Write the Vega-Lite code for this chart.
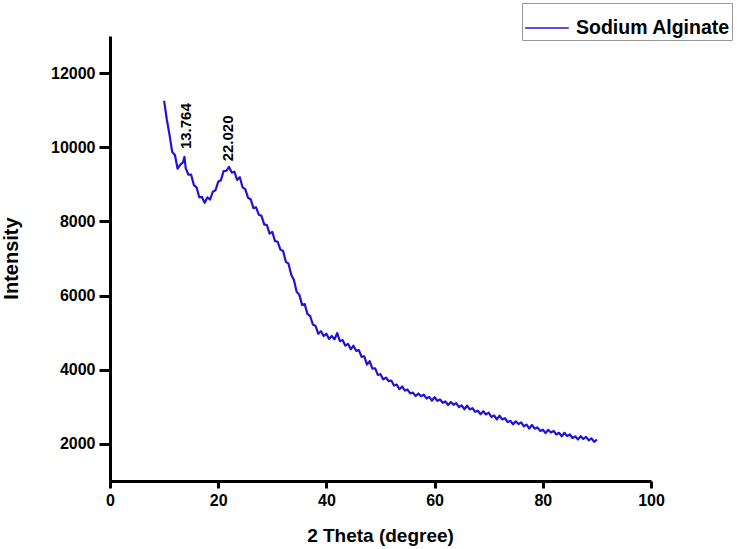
{
  "$schema": "https://vega.github.io/schema/vega-lite/v6.json",
  "width": 541,
  "height": 445,
  "autosize": {"type": "none"},
  "padding": {"left": 110, "top": 36, "right": 86, "bottom": 68},
  "background": "white",
  "config": {
    "view": {"stroke": null},
    "axis": {
      "grid": false,
      "labelFlush": false,
      "labelOverlap": false,
      "domainColor": "black",
      "domainWidth": 3,
      "tickColor": "black",
      "tickWidth": 3,
      "labelFont": "Liberation Sans",
      "labelFontWeight": "bold",
      "labelFontSize": 16,
      "labelColor": "black",
      "titleFont": "Liberation Sans",
      "titleFontWeight": "bold",
      "titleFontSize": 19,
      "titleColor": "black"
    }
  },
  "datasets": {
    "xrd": [
      {"x": 10.0, "y": 11250}, {"x": 10.5, "y": 10750}, {"x": 11.0, "y": 10340}, {"x": 11.5, "y": 9870},
      {"x": 12.0, "y": 9790}, {"x": 12.5, "y": 9420}, {"x": 13.0, "y": 9530}, {"x": 13.5, "y": 9590},
      {"x": 13.76, "y": 9740}, {"x": 14.0, "y": 9430}, {"x": 14.5, "y": 9260}, {"x": 15.0, "y": 9260},
      {"x": 15.5, "y": 8980}, {"x": 16.0, "y": 8920}, {"x": 16.5, "y": 8650}, {"x": 17.0, "y": 8660},
      {"x": 17.5, "y": 8500}, {"x": 18.0, "y": 8650}, {"x": 18.5, "y": 8590}, {"x": 19.0, "y": 8800},
      {"x": 19.5, "y": 8840}, {"x": 20.0, "y": 9070}, {"x": 20.5, "y": 9110}, {"x": 21.0, "y": 9360},
      {"x": 21.5, "y": 9360}, {"x": 22.0, "y": 9470}, {"x": 22.5, "y": 9320}, {"x": 23.0, "y": 9340},
      {"x": 23.5, "y": 9120}, {"x": 24.0, "y": 9190}, {"x": 24.5, "y": 8920}, {"x": 25.0, "y": 8870},
      {"x": 25.5, "y": 8640}, {"x": 26.0, "y": 8600}, {"x": 26.5, "y": 8360}, {"x": 27.0, "y": 8380},
      {"x": 27.5, "y": 8180}, {"x": 28.0, "y": 8150}, {"x": 28.5, "y": 7920}, {"x": 29.0, "y": 7900},
      {"x": 29.5, "y": 7670}, {"x": 30.0, "y": 7720}, {"x": 30.5, "y": 7470}, {"x": 31.0, "y": 7450},
      {"x": 31.5, "y": 7240}, {"x": 32.0, "y": 7200}, {"x": 32.5, "y": 6910}, {"x": 33.0, "y": 6860},
      {"x": 33.5, "y": 6560}, {"x": 34.0, "y": 6420}, {"x": 34.5, "y": 6100}, {"x": 35.0, "y": 6020},
      {"x": 35.5, "y": 5750}, {"x": 36.0, "y": 5770}, {"x": 36.5, "y": 5500}, {"x": 37.0, "y": 5450},
      {"x": 37.5, "y": 5220}, {"x": 38.0, "y": 5180}, {"x": 38.5, "y": 4970}, {"x": 39.0, "y": 5040},
      {"x": 39.5, "y": 4910}, {"x": 40.0, "y": 4970}, {"x": 40.5, "y": 4830}, {"x": 41.0, "y": 4910},
      {"x": 41.5, "y": 4820}, {"x": 42.0, "y": 4990}, {"x": 42.5, "y": 4770}, {"x": 43.0, "y": 4800},
      {"x": 43.5, "y": 4650}, {"x": 44.0, "y": 4700}, {"x": 44.5, "y": 4550}, {"x": 45.0, "y": 4650},
      {"x": 45.5, "y": 4510}, {"x": 46.0, "y": 4530}, {"x": 46.5, "y": 4350}, {"x": 47.0, "y": 4360},
      {"x": 47.5, "y": 4140}, {"x": 48.0, "y": 4230}, {"x": 48.5, "y": 4030}, {"x": 49.0, "y": 4040},
      {"x": 49.5, "y": 3860}, {"x": 50.0, "y": 3880}, {"x": 50.5, "y": 3740}, {"x": 51.0, "y": 3790},
      {"x": 51.5, "y": 3695}, {"x": 52.0, "y": 3710}, {"x": 52.5, "y": 3575}, {"x": 53.0, "y": 3600},
      {"x": 53.5, "y": 3475}, {"x": 54.0, "y": 3550}, {"x": 54.5, "y": 3440}, {"x": 55.0, "y": 3465},
      {"x": 55.5, "y": 3360}, {"x": 56.0, "y": 3385}, {"x": 56.5, "y": 3290}, {"x": 57.0, "y": 3360},
      {"x": 57.5, "y": 3285}, {"x": 58.0, "y": 3330}, {"x": 58.5, "y": 3225}, {"x": 59.0, "y": 3270},
      {"x": 59.5, "y": 3165}, {"x": 60.0, "y": 3260}, {"x": 60.5, "y": 3160}, {"x": 61.0, "y": 3200},
      {"x": 61.5, "y": 3110}, {"x": 62.0, "y": 3145}, {"x": 62.5, "y": 3050}, {"x": 63.0, "y": 3130},
      {"x": 63.5, "y": 3055}, {"x": 64.0, "y": 3100}, {"x": 64.5, "y": 2995}, {"x": 65.0, "y": 3040},
      {"x": 65.5, "y": 2935}, {"x": 66.0, "y": 3030}, {"x": 66.5, "y": 2930}, {"x": 67.0, "y": 2965},
      {"x": 67.5, "y": 2865}, {"x": 68.0, "y": 2895}, {"x": 68.5, "y": 2800}, {"x": 69.0, "y": 2880},
      {"x": 69.5, "y": 2795}, {"x": 70.0, "y": 2840}, {"x": 70.5, "y": 2725}, {"x": 71.0, "y": 2770},
      {"x": 71.5, "y": 2665}, {"x": 72.0, "y": 2760}, {"x": 72.5, "y": 2660}, {"x": 73.0, "y": 2695},
      {"x": 73.5, "y": 2590}, {"x": 74.0, "y": 2625}, {"x": 74.5, "y": 2530}, {"x": 75.0, "y": 2610},
      {"x": 75.5, "y": 2535}, {"x": 76.0, "y": 2580}, {"x": 76.5, "y": 2475}, {"x": 77.0, "y": 2520},
      {"x": 77.5, "y": 2415}, {"x": 78.0, "y": 2510}, {"x": 78.5, "y": 2410}, {"x": 79.0, "y": 2445},
      {"x": 79.5, "y": 2350}, {"x": 80.0, "y": 2385}, {"x": 80.5, "y": 2290}, {"x": 81.0, "y": 2380},
      {"x": 81.5, "y": 2305}, {"x": 82.0, "y": 2350}, {"x": 82.5, "y": 2255}, {"x": 83.0, "y": 2300},
      {"x": 83.5, "y": 2205}, {"x": 84.0, "y": 2300}, {"x": 84.5, "y": 2210}, {"x": 85.0, "y": 2255},
      {"x": 85.5, "y": 2160}, {"x": 86.0, "y": 2205}, {"x": 86.5, "y": 2120}, {"x": 87.0, "y": 2210},
      {"x": 87.5, "y": 2135}, {"x": 88.0, "y": 2190}, {"x": 88.5, "y": 2095}, {"x": 89.0, "y": 2150},
      {"x": 89.5, "y": 2055}, {"x": 90.0, "y": 2120}
    ],
    "peaks": [
      {"x": 14.1, "y": 9950, "label": "13.764"},
      {"x": 21.8, "y": 9620, "label": "22.020"}
    ]
  },
  "layer": [
    {
      "data": {"name": "xrd"},
      "mark": {"type": "line", "strokeWidth": 2.2, "interpolate": "linear", "strokeJoin": "round"},
      "encoding": {
        "x": {
          "field": "x", "type": "quantitative",
          "scale": {"domain": [0, 100], "nice": false, "zero": false},
          "axis": {
            "title": "2 Theta (degree)",
            "values": [0, 20, 40, 60, 80, 100],
            "tickSize": 7, "labelPadding": 4,
            "titleX": 270, "titleY": 54, "titleBaseline": "middle", "titleAlign": "center"
          }
        },
        "y": {
          "field": "y", "type": "quantitative",
          "scale": {"domain": [1000, 13000], "nice": false, "zero": false},
          "axis": {
            "title": "Intensity",
            "values": [2000, 4000, 6000, 8000, 10000, 12000],
            "format": "d",
            "tickSize": 11, "labelPadding": 4,
            "titleFontSize": 20,
            "titleX": -99, "titleY": 222, "titleBaseline": "middle", "titleAlign": "center", "titleAngle": 270
          }
        },
        "color": {
          "datum": "Sodium Alginate",
          "type": "nominal",
          "scale": {"range": ["#2012d8"]},
          "legend": {
            "title": null,
            "orient": "none",
            "legendX": 412,
            "legendY": -33,
            "strokeColor": "#999999",
            "fillColor": "white",
            "padding": 2,
            "symbolType": "stroke",
            "symbolSize": 1900,
            "symbolStrokeWidth": 1.5,
            "labelFont": "Liberation Sans",
            "labelFontSize": 19.5,
            "labelFontWeight": "bold",
            "labelColor": "black",
            "labelOffset": 6
          }
        }
      }
    },
    {
      "data": {"name": "peaks"},
      "mark": {
        "type": "text", "angle": 270, "align": "left", "baseline": "middle",
        "font": "Liberation Sans", "fontWeight": "bold", "fontSize": 15, "color": "black"
      },
      "encoding": {
        "x": {"field": "x", "type": "quantitative"},
        "y": {"field": "y", "type": "quantitative"},
        "text": {"field": "label"}
      }
    }
  ]
}
